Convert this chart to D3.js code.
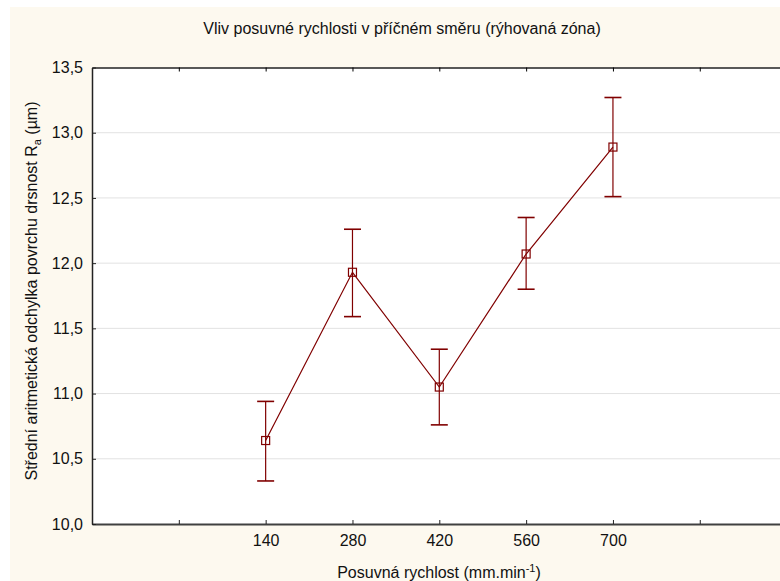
<!DOCTYPE html>
<html>
<head>
<meta charset="utf-8">
<script src="https://cdn.jsdelivr.net/npm/d3@7"></script>
<style>
  body { margin: 0; background: #fff; }
  text { font-family: "Liberation Sans", Arial, sans-serif; fill: #111; }
</style>
</head>
<body>
<script>
const feedRates = [140, 280, 420, 560, 700];
const meanRa = [10.64, 11.93, 11.05, 12.07, 12.89];
const upperRa = [10.94, 12.26, 11.34, 12.35, 13.27];
const lowerRa = [10.33, 11.59, 10.76, 11.80, 12.51];
const yTicks = [10.0, 10.5, 11.0, 11.5, 12.0, 12.5, 13.0, 13.5];
const xTicks = [0, 140, 280, 420, 560, 700, 840];

const W = 780, H = 581;
const margin = { top: 67.5, left: 92, right: -6.6, bottom: 57 };
const width = W - margin.left - margin.right;
const height = H - margin.top - margin.bottom;
const color = '#800000';
const fs = 16;

const cz = d3.formatLocale({ decimal: ',', thousands: ' ', grouping: [3], currency: ['', ''] });
const fmt = cz.format('.1f');

const svg = d3.select('body').append('svg')
  .attr('width', W)
  .attr('height', H);

svg.append('rect')
  .attr('x', 10).attr('y', 7)
  .attr('width', W).attr('height', H)
  .attr('fill', '#fdf9ef');

const g = svg.append('g')
  .attr('transform', `translate(${margin.left},${margin.top})`);

const x = d3.scaleLinear().domain([-140, 980]).range([0, width]);
const y = d3.scaleLinear().domain([10, 13.5]).range([height, 0]);

g.append('rect')
  .attr('width', width).attr('height', height)
  .attr('fill', '#fff');

// horizontal grid
g.append('g')
  .selectAll('line')
  .data(yTicks.slice(1, -1))
  .join('line')
  .attr('x1', 0).attr('x2', width)
  .attr('y1', d => y(d)).attr('y2', d => y(d))
  .attr('stroke', '#e2e2e2');

// axes
const xAxis = g.append('g')
  .attr('transform', `translate(0,${height})`)
  .call(d3.axisBottom(x).tickValues(xTicks).tickSizeInner(-4).tickSizeOuter(0)
    .tickFormat(d => feedRates.includes(d) ? d : ''));
xAxis.select('.domain').attr('stroke', '#404040').attr('stroke-width', 2);
xAxis.selectAll('.tick line').attr('stroke', '#222');
xAxis.selectAll('.tick text').attr('y', 11).attr('font-size', fs);

const xTop = g.append('g')
  .call(d3.axisTop(x).tickValues(xTicks).tickSizeInner(-4).tickSizeOuter(0).tickFormat(''));
xTop.select('.domain').attr('stroke', '#222').attr('stroke-width', 1.5);

const yAxis = g.append('g')
  .call(d3.axisLeft(y).tickValues(yTicks).tickSizeInner(-4).tickSizeOuter(0).tickFormat(fmt));
yAxis.select('.domain').attr('stroke', '#222').attr('stroke-width', 1.5);
yAxis.selectAll('.tick line').attr('stroke', '#222');
yAxis.selectAll('.tick text').attr('x', -9).attr('font-size', fs);

// line
g.append('path')
  .datum(feedRates.map((f, i) => [f, meanRa[i]]))
  .attr('fill', 'none')
  .attr('stroke', color)
  .attr('stroke-width', 1.2)
  .attr('d', d3.line().x(d => x(d[0])).y(d => y(d[1])));

// error bars
const bars = g.append('g').selectAll('g')
  .data(feedRates.map((f, i) => ({ f, m: meanRa[i], hi: upperRa[i], lo: lowerRa[i] })))
  .join('g')
  .attr('stroke', color)
  .attr('stroke-width', 1.2);

bars.append('line')
  .attr('x1', d => x(d.f)).attr('x2', d => x(d.f))
  .attr('y1', d => y(d.hi)).attr('y2', d => y(d.lo));
bars.append('line')
  .attr('x1', d => x(d.f) - 8.5).attr('x2', d => x(d.f) + 8.5)
  .attr('y1', d => y(d.hi)).attr('y2', d => y(d.hi))
  .attr('stroke-width', 1.6);
bars.append('line')
  .attr('x1', d => x(d.f) - 8.5).attr('x2', d => x(d.f) + 8.5)
  .attr('y1', d => y(d.lo)).attr('y2', d => y(d.lo))
  .attr('stroke-width', 1.6);
bars.append('rect')
  .attr('x', d => x(d.f) - 4).attr('y', d => y(d.m) - 4)
  .attr('width', 8).attr('height', 8)
  .attr('fill', 'none');

// title and labels
svg.append('text')
  .attr('x', 402).attr('y', 33.5)
  .attr('text-anchor', 'middle')
  .attr('font-size', fs)
  .text('Vliv posuvné rychlosti v příčném směru (rýhovaná zóna)');

const xl = svg.append('text')
  .attr('x', 439).attr('y', 578)
  .attr('text-anchor', 'middle')
  .attr('font-size', fs);
xl.append('tspan').text('Posuvná rychlost (mm.min');
xl.append('tspan').attr('dy', -6).attr('font-size', 11).text('-1');
xl.append('tspan').attr('dy', 6).text(')');

const yl = svg.append('text')
  .attr('transform', 'translate(37,291) rotate(-90)')
  .attr('text-anchor', 'middle')
  .attr('font-size', fs);
yl.append('tspan').text('Střední aritmetická odchylka povrchu drsnost R');
yl.append('tspan').attr('dy', 4).attr('font-size', 11).text('a');
yl.append('tspan').attr('dy', -4).text(' (µm)');
</script>
</body>
</html>
